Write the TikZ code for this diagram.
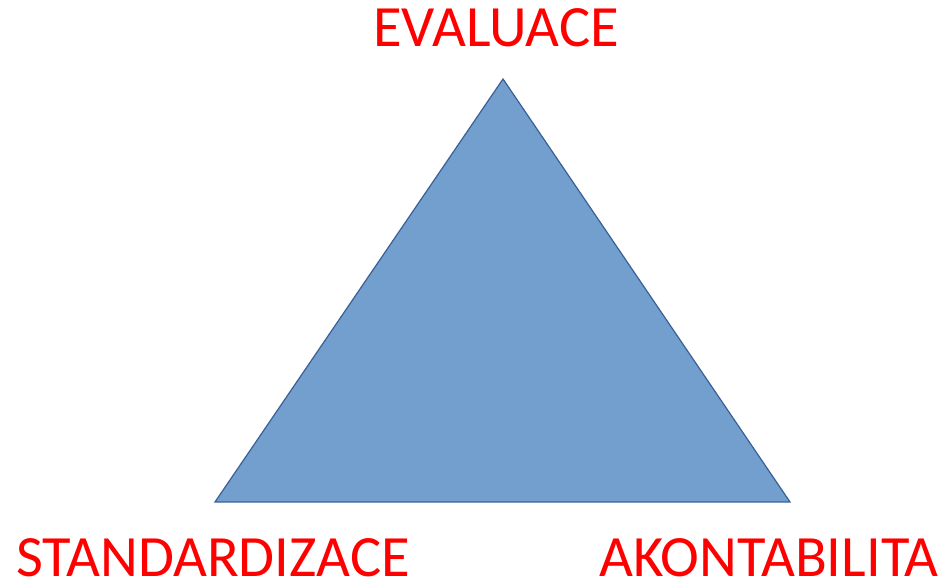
\documentclass[tikz,border=0pt]{standalone}
\usepackage{fontspec}
\setmainfont{Carlito}
\definecolor{trifill}{RGB}{114,159,206}
\definecolor{triline}{RGB}{56,95,150}
\begin{document}
\begin{tikzpicture}[x=1pt,y=1pt,
  lbl/.style={text=red,font=\fontsize{58.5}{62}\selectfont,inner sep=0pt,anchor=base,text depth=0pt}]
\useasboundingbox (0,0) rectangle (952,580);
\coordinate (top) at (503,501);
\coordinate (bl) at (215,78);
\coordinate (br) at (790,78);
\filldraw[fill=trifill,draw=triline,line width=1.2pt,line join=miter] (top) -- (bl) -- (br) -- cycle;
\node[lbl] (ev) at (496,533) {EVALUACE};
\node[lbl] (st) at (213,3.5) {STANDARDIZACE};
\node[lbl] (ak) at (769,3.5) {AKONTABILITA};
\end{tikzpicture}
\end{document}
